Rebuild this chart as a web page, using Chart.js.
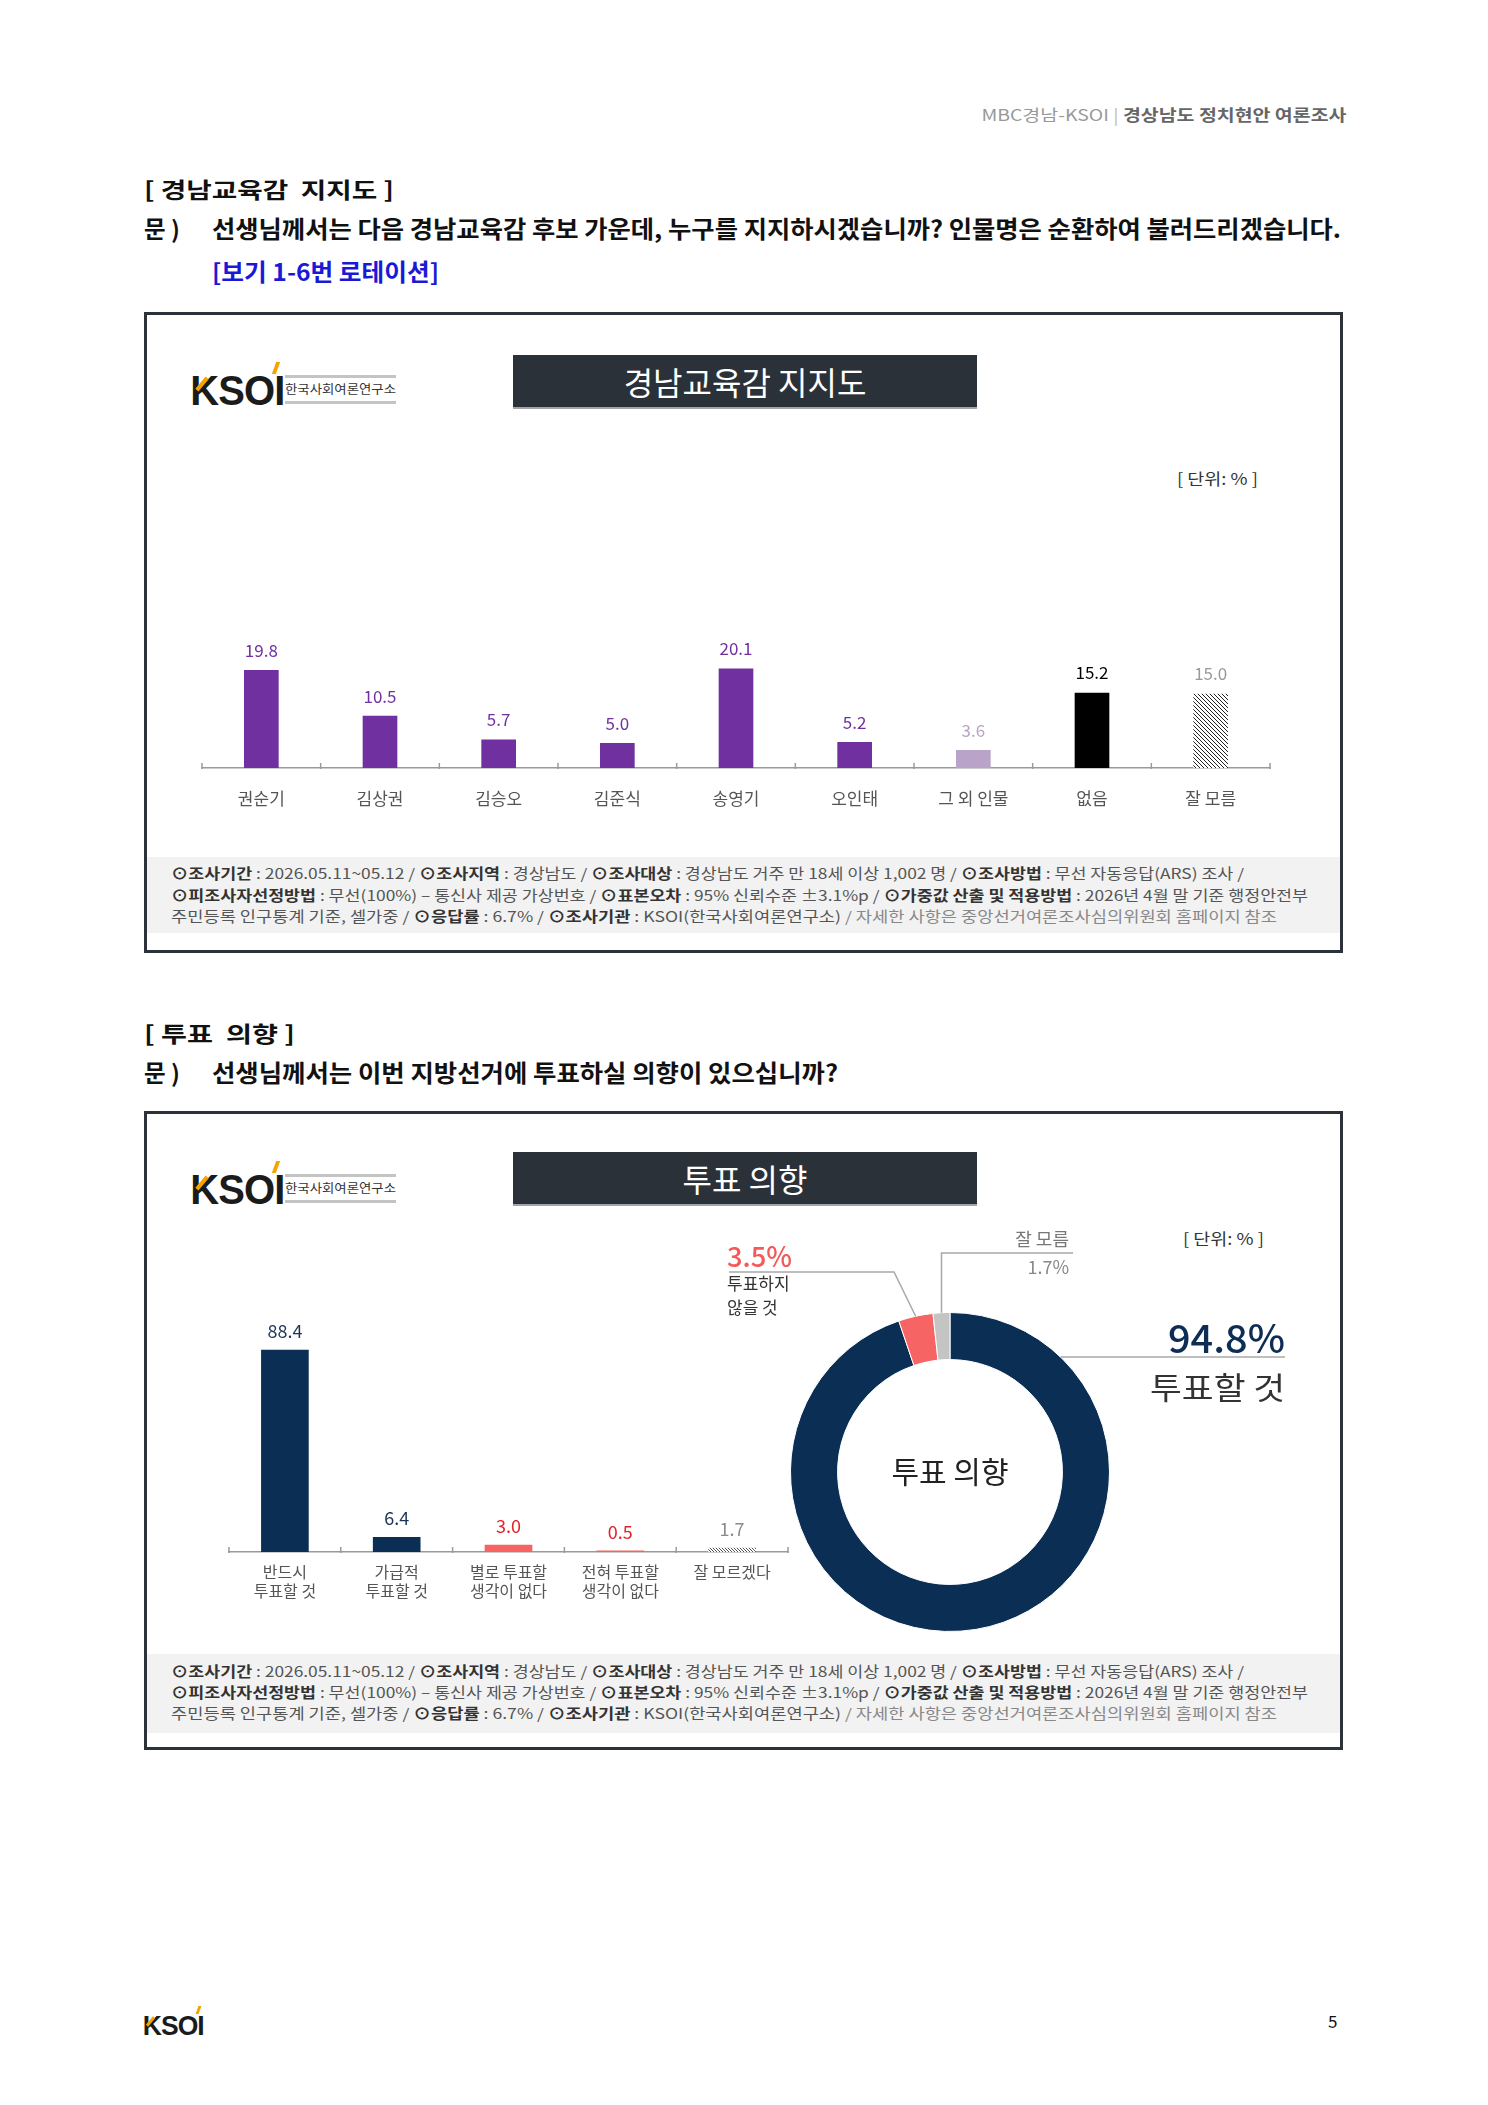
<!DOCTYPE html>
<html><head><meta charset="utf-8">
<script src="https://cdn.jsdelivr.net/npm/chart.js@4.4.1/dist/chart.umd.min.js"></script>
<style>
html,body{margin:0;padding:0;background:#fff;}
body{width:1488px;height:2105px;position:relative;overflow:hidden;font-family:"Noto Sans CJK KR","Noto Sans",sans-serif;}
.a{position:absolute;white-space:nowrap;line-height:1;transform-origin:left center;}
.r{transform-origin:right center;}
.box{position:absolute;border:3px solid #2c323a;box-sizing:border-box;}
.tbar{position:absolute;background:#2b3139;color:#fff;font-size:32px;display:flex;align-items:center;justify-content:center;border-bottom:2px solid #a0a5ab;box-sizing:border-box;}
.note{position:absolute;background:#f2f2f2;}
.nl{font-size:14.5px;color:#555;}
.nl b{color:#333;font-weight:700;}
.h{font-weight:700;color:#111;}
.logo{position:absolute;}
.ks{position:absolute;left:0;font-family:"Liberation Sans",Arial,sans-serif;font-weight:700;color:#1b1b1b;line-height:1;letter-spacing:-1px;}
.acc{position:absolute;background:#f5a300;}
canvas{position:absolute;}
</style></head>
<body>
<script>
// ---- data ----
const cat1 = ['권순기','김상권','김승오','김준식','송영기','오인태','그 외 인물','없음','잘 모름'];
const val1 = [19.8,10.5,5.7,5.0,20.1,5.2,3.6,15.2,15.0];
const cat2 = [['반드시','투표할 것'],['가급적','투표할 것'],['별로 투표할','생각이 없다'],['전혀 투표할','생각이 없다'],'잘 모르겠다'];
const val2 = [88.4,6.4,3.0,0.5,1.7];
const donutCats = ['투표할 것','투표하지 않을 것','잘 모름'];
const donutVals = [94.8,3.5,1.7];
</script>

<div class="a r" style="right:142px;top:106px;font-size:16px;color:#888;" data-w="365"><span style="color:#999">MBC경남-KSOI</span> <span style="color:#bbb">|</span> <b style="color:#666">경상남도 정치현안 여론조사</b></div>

<div class="a h" style="left:144px;top:177px;font-size:22px;" data-w="250">[ 경남교육감&nbsp; 지지도 ]</div>
<div class="a h" style="left:144px;top:217px;font-size:23.5px;">문 )</div>
<div class="a h" style="left:212px;top:217px;font-size:23.5px;" data-w="1129">선생님께서는 다음 경남교육감 후보 가운데, 누구를 지지하시겠습니까? 인물명은 순환하여 불러드리겠습니다.</div>
<div class="a h" style="left:212px;top:260px;font-size:23.5px;color:#1a1ad6;" data-w="227">[보기 1-6번 로테이션]</div>

<div class="box" style="left:144px;top:312px;width:1199px;height:641px;"></div>
<div class="logo" style="left:188px;top:362px;width:210px;height:44px;">
  <div class="ks" style="top:8px;font-size:42px;" data-w="94">KSOI</div>
  <div class="acc" style="left:86px;top:0px;width:4px;height:12px;transform:skewX(-20deg);"></div>
  <div class="acc" style="left:12px;top:14px;width:4px;height:16px;transform:rotate(40deg);"></div>
  <div style="position:absolute;left:97px;top:13px;width:111px;height:3px;background:#c4c4c4;"></div>
  <div style="position:absolute;left:97px;top:39px;width:111px;height:3px;background:#c4c4c4;"></div>
  <div class="a" style="left:97px;top:21px;font-size:12.5px;color:#333;" data-w="111">한국사회여론연구소</div>
</div>
<div class="tbar" style="left:513px;top:355px;width:464px;height:54px;">경남교육감 지지도</div>
<div class="a" style="left:1177px;top:470px;font-size:16px;color:#333;" data-w="81">[ 단위: % ]</div>
<canvas id="c1" width="1170" height="240" style="left:160px;top:600px;width:1170px;height:240px;"></canvas>
<div class="note" style="left:147px;top:857px;width:1193px;height:76px;"></div>
<div class="a nl" style="left:171px;top:866px;" data-w="1073"><b>⊙조사기간</b> : 2026.05.11~05.12 / <b>⊙조사지역</b> : 경상남도 / <b>⊙조사대상</b> : 경상남도 거주 만 18세 이상 1,002 명 / <b>⊙조사방법</b> : 무선 자동응답(ARS) 조사 /</div>
<div class="a nl" style="left:171px;top:888px;" data-w="1137"><b>⊙피조사자선정방법</b> : 무선(100%) – 통신사 제공 가상번호 / <b>⊙표본오차</b> : 95% 신뢰수준 ±3.1%p / <b>⊙가중값 산출 및 적용방법</b> : 2026년 4월 말 기준 행정안전부</div>
<div class="a nl" style="left:171px;top:909px;" data-w="1106">주민등록 인구통계 기준, 셀가중 / <b>⊙응답률</b> : 6.7% / <b>⊙조사기관</b> : KSOI(한국사회여론연구소) <span style="color:#888">/ 자세한 사항은 중앙선거여론조사심의위원회 홈페이지 참조</span></div>

<div class="a h" style="left:144px;top:1021px;font-size:22px;" data-w="151">[ 투표&nbsp; 의향 ]</div>
<div class="a h" style="left:144px;top:1061px;font-size:23.5px;">문 )</div>
<div class="a h" style="left:212px;top:1061px;font-size:23.5px;" data-w="626">선생님께서는 이번 지방선거에 투표하실 의향이 있으십니까?</div>

<div class="box" style="left:144px;top:1111px;width:1199px;height:639px;"></div>
<div class="logo" style="left:188px;top:1161px;width:210px;height:44px;">
  <div class="ks" style="top:8px;font-size:42px;" data-w="94">KSOI</div>
  <div class="acc" style="left:86px;top:0px;width:4px;height:12px;transform:skewX(-20deg);"></div>
  <div class="acc" style="left:12px;top:14px;width:4px;height:16px;transform:rotate(40deg);"></div>
  <div style="position:absolute;left:97px;top:13px;width:111px;height:3px;background:#c4c4c4;"></div>
  <div style="position:absolute;left:97px;top:39px;width:111px;height:3px;background:#c4c4c4;"></div>
  <div class="a" style="left:97px;top:21px;font-size:12.5px;color:#333;" data-w="111">한국사회여론연구소</div>
</div>
<div class="tbar" style="left:513px;top:1152px;width:464px;height:54px;">투표 의향</div>
<div class="a" style="left:1183px;top:1230px;font-size:16px;color:#333;" data-w="81">[ 단위: % ]</div>
<canvas id="c2" width="640" height="320" style="left:180px;top:1300px;width:640px;height:320px;"></canvas>
<canvas id="c3" width="600" height="410" style="left:700px;top:1230px;width:600px;height:410px;"></canvas>
<div class="a" style="left:727px;top:1241px;font-size:28px;color:#f25b5b;font-weight:500;" data-w="65">3.5%</div>
<div class="a" style="left:727px;top:1274px;font-size:17px;color:#333;">투표하지</div>
<div class="a" style="left:727px;top:1298px;font-size:17px;color:#333;">않을 것</div>
<div class="a r" style="right:419px;top:1229px;font-size:18px;color:#777;">잘 모름</div>
<div class="a r" style="right:419px;top:1257px;font-size:18px;color:#888;">1.7%</div>
<div class="a r" style="right:203px;top:1317px;font-size:39px;color:#0d2d55;font-weight:500;" data-w="117">94.8%</div>
<div class="a r" style="right:203px;top:1370px;font-size:31px;color:#333;" data-w="135">투표할 것</div>
<div class="note" style="left:147px;top:1654px;width:1193px;height:79px;"></div>
<div class="a nl" style="left:171px;top:1664px;" data-w="1073"><b>⊙조사기간</b> : 2026.05.11~05.12 / <b>⊙조사지역</b> : 경상남도 / <b>⊙조사대상</b> : 경상남도 거주 만 18세 이상 1,002 명 / <b>⊙조사방법</b> : 무선 자동응답(ARS) 조사 /</div>
<div class="a nl" style="left:171px;top:1685px;" data-w="1137"><b>⊙피조사자선정방법</b> : 무선(100%) – 통신사 제공 가상번호 / <b>⊙표본오차</b> : 95% 신뢰수준 ±3.1%p / <b>⊙가중값 산출 및 적용방법</b> : 2026년 4월 말 기준 행정안전부</div>
<div class="a nl" style="left:171px;top:1706px;" data-w="1106">주민등록 인구통계 기준, 셀가중 / <b>⊙응답률</b> : 6.7% / <b>⊙조사기관</b> : KSOI(한국사회여론연구소) <span style="color:#888">/ 자세한 사항은 중앙선거여론조사심의위원회 홈페이지 참조</span></div>

<div class="logo" style="left:141px;top:2006px;width:70px;height:30px;">
  <div class="ks" style="top:6px;font-size:28px;" data-w="61">KSOI</div>
  <div class="acc" style="left:56px;top:0px;width:3px;height:8px;transform:skewX(-20deg);"></div>
  <div class="acc" style="left:8px;top:10px;width:3px;height:11px;transform:rotate(40deg);"></div>
</div>
<div class="a" style="left:1328px;top:2012px;font-size:17px;color:#111;">5</div>

<script>
document.querySelectorAll('[data-w]').forEach(el=>{
  const w=parseFloat(el.dataset.w); const a=el.getBoundingClientRect().width;
  if(a>0) el.style.transform='scaleX('+(w/a)+')';
});
const FAM="'Noto Sans CJK KR','Noto Sans',sans-serif";
function hatch(line,bg,step){
  const c=document.createElement('canvas'); c.width=step; c.height=step;
  const g=c.getContext('2d'); g.fillStyle=bg; g.fillRect(0,0,step,step);
  g.fillStyle=line; for(let i=0;i<step;i++) g.fillRect(i,i,1,1);
  return g.createPattern(c,'repeat');
}
const axisDecor={
  id:'axisDecor',
  afterDatasetsDraw(chart,args,opts){
    const ctx=chart.ctx, x=chart.scales.x, n=chart.data.labels.length;
    const y0=chart.chartArea.bottom;
    ctx.save();
    ctx.strokeStyle='#9a9a9a'; ctx.lineWidth=1.5;
    for(let i=0;i<=n;i++){
      const px=x.left+i*(x.width/n);
      ctx.beginPath(); ctx.moveTo(px,y0-5); ctx.lineTo(px,y0+1); ctx.stroke();
    }
    const meta=chart.getDatasetMeta(0);
    ctx.font=opts.font; ctx.textAlign='center'; ctx.textBaseline='middle';
    meta.data.forEach((bar,i)=>{
      ctx.fillStyle=opts.colors[i];
      ctx.fillText(chart.data.datasets[0].data[i].toFixed(1),bar.x,bar.y-opts.off);
    });
    ctx.restore();
  }
};
Chart.defaults.font.family=FAM;

const hatchDark=hatch('#222','#fff',4);
new Chart(document.getElementById('c1'),{
  type:'bar',
  data:{labels:cat1,datasets:[{data:val1,barThickness:34,
    backgroundColor:['#7030a0','#7030a0','#7030a0','#7030a0','#7030a0','#7030a0','#b9a3c9','#000000',hatchDark]}]},
  options:{responsive:false,animation:false,
    layout:{padding:{left:42,right:60,top:20,bottom:0}},
    plugins:{legend:{display:false},tooltip:{enabled:false},
      axisDecor:{font:'17px '+FAM,off:20,colors:['#7030a0','#7030a0','#7030a0','#7030a0','#7030a0','#7030a0','#b9a3c9','#000000','#999999']}},
    scales:{
      y:{display:false,min:0,max:30},
      x:{grid:{display:false,drawTicks:false},border:{display:true,color:'#9a9a9a',width:1.5},
        ticks:{color:'#555',font:{size:17},padding:20},
        afterFit(s){s.height=72;}}
    }},
  plugins:[axisDecor]
});

const hatchLight=hatch('#555','#fff',3);
new Chart(document.getElementById('c2'),{
  type:'bar',
  data:{labels:cat2,datasets:[{data:val2,barThickness:47,
    backgroundColor:['#0b2e55','#0b2e55','#f76262','#f76262',hatchLight]}]},
  options:{responsive:false,animation:false,
    layout:{padding:{left:49,right:32,top:23.5,bottom:0}},
    plugins:{legend:{display:false},tooltip:{enabled:false},
      axisDecor:{font:'18px '+FAM,off:19,colors:['#1c3557','#1c3557','#e3232a','#e3232a','#8a8a8a']}},
    scales:{
      y:{display:false,min:0,max:100},
      x:{grid:{display:false,drawTicks:false},border:{display:true,color:'#9a9a9a',width:1.5},
        ticks:{color:'#555',font:{size:16},padding:10},
        afterFit(s){s.height=68;}}
    }},
  plugins:[axisDecor]
});

const donutDecor={
  id:'donutDecor',
  afterDraw(chart){
    const ctx=chart.ctx, arcs=chart.getDatasetMeta(0).data;
    const cx=arcs[0].x, cy=arcs[0].y, R=arcs[0].outerRadius;
    ctx.save();
    ctx.fillStyle='#222'; ctx.font='30px '+FAM; ctx.textAlign='center'; ctx.textBaseline='middle';
    ctx.fillText('투표 의향',cx,cy);
    ctx.strokeStyle='#a8a8a8'; ctx.lineWidth=1.5;
    // red segment leader
    let a=arcs[1], m=(a.startAngle+a.endAngle)/2;
    ctx.beginPath(); ctx.moveTo(cx+Math.cos(m)*R,cy+Math.sin(m)*R); ctx.lineTo(194,42); ctx.lineTo(29,42); ctx.stroke();
    // gray segment leader
    a=arcs[2]; m=(a.startAngle+a.endAngle)/2;
    const gx=cx+Math.cos(m)*R;
    ctx.beginPath(); ctx.moveTo(gx,cy+Math.sin(m)*R); ctx.lineTo(gx,23); ctx.lineTo(373,23); ctx.stroke();
    // navy leader
    const ly=127, dy=ly-cy, nx=cx+Math.sqrt(R*R-dy*dy);
    ctx.beginPath(); ctx.moveTo(nx,ly); ctx.lineTo(585,ly); ctx.stroke();
    ctx.restore();
  }
};
new Chart(document.getElementById('c3'),{
  type:'doughnut',
  data:{labels:donutCats,datasets:[{data:donutVals,backgroundColor:['#0b2e55','#f76464','#c4c4c4'],borderColor:'#ffffff',borderWidth:1}]},
  options:{responsive:false,animation:false,cutout:'70.5%',
    layout:{padding:{left:90,right:190,top:82,bottom:8}},
    plugins:{legend:{display:false},tooltip:{enabled:false}}},
  plugins:[donutDecor]
});
</script>
</body></html>
